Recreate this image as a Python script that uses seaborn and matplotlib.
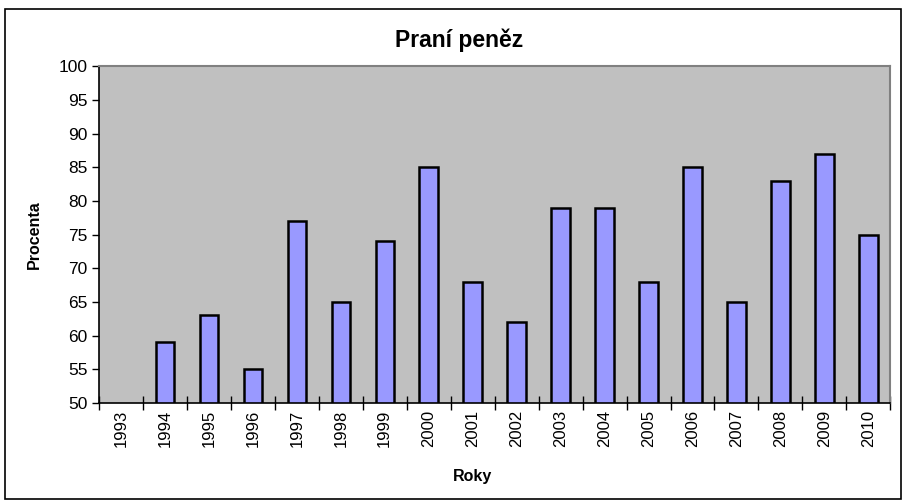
import numpy as np
import pandas as pd
import matplotlib
matplotlib.use("Agg")
import matplotlib.pyplot as plt
import seaborn as sns
from matplotlib.patches import Rectangle

years = [str(y) for y in range(1993, 2011)]
values = [np.nan, 59, 63, 55, 77, 65, 74, 85, 68, 62, 79, 79, 68, 85, 65, 83, 87, 75]

df = pd.DataFrame({"rok": years, "procenta": values})

sns.set_theme(style="white")
plt.rcParams["font.family"] = ["Liberation Sans", "DejaVu Sans"]
plt.rcParams["text.color"] = "black"
plt.rcParams["xtick.color"] = "black"
plt.rcParams["ytick.color"] = "black"
plt.rcParams["axes.labelcolor"] = "black"

fig = plt.figure(figsize=(9.03, 5.01), dpi=100)
ax = fig.add_axes([0.1096, 0.1956, 0.8764, 0.6724])

sns.barplot(x="rok", y="procenta", data=df, color="#9999FF", saturation=1,
            edgecolor="black", linewidth=1.8, width=0.42, ax=ax)

ax.set_facecolor("#C0C0C0")
ax.set_ylim(50, 100)
ax.set_xlim(-0.5, len(years) - 0.5)
ax.set_yticks(range(50, 101, 5))
ax.tick_params(axis="y", labelsize=12.5, direction="out", length=5, width=1, color="black", left=True, pad=3)

ax.set_xticks(range(len(years)))
ax.set_xticklabels(years, rotation=90, fontsize=12)
ax.set_xticks(np.arange(-0.5, len(years), 1), minor=True)
ax.tick_params(axis="x", which="major", length=0, pad=5)
ax.tick_params(axis="x", which="minor", direction="inout", length=10, width=1, color="black", bottom=True)

for s in ["top", "right"]:
    ax.spines[s].set_color("#808080")
    ax.spines[s].set_linewidth(1.5)
for s in ["left", "bottom"]:
    ax.spines[s].set_color("black")
    ax.spines[s].set_linewidth(1.2)

ax.set_xlabel("")
ax.set_ylabel("Procenta", fontsize=11.5, fontweight="bold", labelpad=12)
fig.text(0.508, 0.92, "Praní peněz", fontsize=16.5, fontweight="bold", ha="center", va="center")
fig.text(0.523, 0.048, "Roky", fontsize=11.5, fontweight="bold", ha="center", va="center")

fig.patches.append(Rectangle((0.005, 0.003), 0.993, 0.98, transform=fig.transFigure,
                             fill=False, edgecolor="black", linewidth=1.2))

fig.savefig("out.png", dpi=100)
